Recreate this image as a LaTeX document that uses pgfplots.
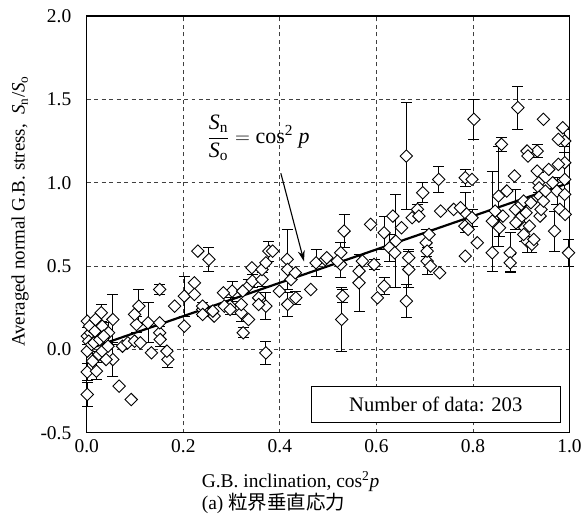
\documentclass[border=0pt]{standalone}
\usepackage{fontspec}
\setmainfont{Liberation Serif}
\newfontfamily\cjk{Noto Sans CJK JP}
\usepackage{pgfplots}
\pgfplotsset{compat=1.18}
\usetikzlibrary{calc,arrows.meta}

\pgfplotstableread{
x y e
0.001 -0.27 0.07
0.001 -0.135 0.05
0.001 0.08 0.05
0.012 -0.07 0.06
0.020 -0.13 0.05
0.021 0.13 0.04
0.030 0.22 0.05
0.008 0.10 0.03
0.045 0.10 0.06
0.054 0.18 0.15
0.054 -0.06 0.10
0.103 0.15 0.05
0.108 0.26 0.10
0.127 0.16 0.12
0.151 0.36 0.03
0.151 0.10 0.04
0.152 0.06 0.04
0.168 -0.06 0.05
0.202 0.32 0.12
0.253 0.54 0.07
0.240 0.24 0.04
0.297 0.26 0.05
0.301 0.35 0.06
0.320 0.22 0.05
0.324 0.10 0.03
0.335 0.38 0.04
0.343 0.41 0.04
0.363 0.42 0.04
0.371 0.26 0.08
0.371 -0.02 0.07
0.377 0.59 0.06
0.415 0.54 0.18
0.416 0.27 0.07
0.433 0.31 0.04
0.475 0.52 0.08
0.526 0.58 0.06
0.526 0.51 0.08
0.533 0.71 0.10
0.530 0.32 0.04
0.528 0.18 0.19
0.564 0.40 0.17
0.595 0.51 0.03
0.616 0.70 0.10
0.616 0.38 0.05
0.627 0.61 0.08
0.640 0.65 0.28
0.662 1.16 0.32
0.667 0.55 0.05
0.667 0.48 0.11
0.662 0.29 0.10
0.685 0.84 0.03
0.696 0.94 0.06
0.703 0.64 0.08
0.705 0.53 0.08
0.729 1.02 0.08
0.784 1.03 0.05
0.784 0.82 0.12
0.798 0.79 0.05
0.802 1.38 0.12
0.840 0.77 0.30
0.853 0.92 0.30
0.855 0.73 0.05
0.859 1.23 0.04
0.877 0.58 0.12
0.877 0.52 0.05
0.888 0.84 0.12
0.893 1.45 0.13
0.898 0.79 0.05
0.907 0.73 0.08
0.912 0.65 0.07
0.922 0.63 0.05
0.933 1.19 0.04
0.936 1.00 0.06
0.969 0.71 0.12
0.974 0.95 0.08
0.990 1.25 0.07
0.990 1.12 0.10
0.990 0.93 0.10
0.998 0.58 0.08
}\errtable

\pgfplotstableread{
x y
0.001 0.17
0.001 -0.01
0.004 0.05
0.006 0.14
0.010 0.03
0.015 0.04
0.017 0.11
0.018 0.18
0.025 -0.03
0.027 0.06
0.032 0.14
0.032 -0.01
0.035 0.08
0.040 -0.06
0.044 0.02
0.067 -0.22
0.074 0.02
0.085 0.04
0.092 -0.30
0.099 0.21
0.099 0.05
0.111 0.04
0.134 -0.02
0.151 0.16
0.166 -0.01
0.182 0.26
0.202 0.14
0.223 0.40
0.223 0.33
0.230 0.59
0.240 0.26
0.240 0.21
0.264 0.20
0.261 0.23
0.283 0.34
0.285 0.26
0.297 0.24
0.320 0.27
0.323 0.35
0.335 0.18
0.342 0.49
0.356 0.31
0.356 0.27
0.363 0.48
0.371 0.52
0.385 0.59
0.399 0.35
0.416 0.48
0.423 0.42
0.432 0.46
0.464 0.36
0.494 0.54
0.497 0.55
0.519 0.53
0.564 0.47
0.571 0.53
0.588 0.75
0.602 0.31
0.634 0.80
0.638 0.58
0.652 0.73
0.674 0.79
0.688 0.80
0.705 0.59
0.709 0.69
0.712 0.50
0.731 0.46
0.733 0.83
0.760 0.84
0.774 0.85
0.783 0.74
0.790 0.72
0.784 0.56
0.798 1.02
0.809 0.64
0.840 0.58
0.846 0.83
0.862 0.80
0.870 0.95
0.886 1.04
0.889 0.76
0.900 0.87
0.905 0.89
0.905 0.69
0.910 0.82
0.912 1.19
0.914 1.16
0.917 0.74
0.920 0.88
0.926 0.66
0.933 1.07
0.937 0.97
0.939 0.92
0.939 0.80
0.941 0.84
0.946 1.38
0.946 0.89
0.950 0.95
0.957 1.08
0.965 1.00
0.977 1.26
0.977 1.11
0.980 0.84
0.986 1.33
0.990 1.02
0.991 0.81
}\plaintable

\begin{document}
\begin{tikzpicture}[font=\fontsize{19.5bp}{22bp}\selectfont]
\begin{axis}[
  scale only axis, width=484bp, height=418bp,
  xmin=0, xmax=1, ymin=-0.5, ymax=2,
  xtick={0,0.2,0.4,0.6,0.8,1}, ytick={-0.5,0,0.5,1,1.5,2},
  /pgf/number format/assume math mode=true,
  /pgf/number format/fixed,
  /pgf/number format/fixed zerofill,
  /pgf/number format/precision=1,
  xticklabel style={yshift=-3bp},
  yticklabel style={xshift=-12bp},
  major tick length=0pt,
  grid=major,
  grid style={black!75, line width=0.8bp, dash pattern=on 4bp off 3.5bp},
  axis line style={line width=1.2bp},
  xlabel={G.B. inclination, cos\textsuperscript{2}\textit{p}\\(a) {\cjk 粒界垂直応力}},
  xlabel style={at={(axis description cs:0.231,-0.083)}, anchor=north west, align=left},
  clip=false,
]
\addplot[only marks, mark=square*, mark size=4.4bp,
  mark options={rotate=45, fill=white, draw=black, line width=0.9bp},
  error bars/.cd, y dir=both, y explicit,
  error bar style={line width=0.9bp, black},
  error mark options={rotate=90, mark size=5.5bp, line width=0.9bp}]
  table[x=x, y=y, y error=e] {\errtable};
\addplot[only marks, mark=square*, mark size=4.4bp,
  mark options={rotate=45, fill=white, draw=black, line width=0.9bp}]
  table[x=x, y=y] {\plaintable};
\addplot[black, line width=2.2bp] coordinates {(0,0) (1,1)};
\node[rotate=90, anchor=center, inner sep=0pt, font=\fontsize{19bp}{22bp}\selectfont] at (axis description cs:-0.138,0.531) {Averaged normal G.B. stress,\ \ \textit{S}\textsubscript{n}/\textit{S}\textsubscript{o}};
\node[font=\fontsize{22bp}{26bp}\selectfont] at (axis cs:0.356,1.27) {$\displaystyle\frac{\mbox{\textit{S}\textsubscript{n}}}{\mbox{\textit{S}\textsubscript{o}}} = \mbox{cos\textsuperscript{2}\ \textit{p}}$};
\draw[-{Stealth[length=11bp,width=7bp]}, line width=1.1bp] (axis cs:0.402,1.057) -- (axis cs:0.450,0.528);
\node[draw, fill=white, line width=0.9bp, minimum width=249bp, minimum height=36bp, inner sep=0pt, font=\fontsize{20.7bp}{24bp}\selectfont] at (axis cs:0.723,-0.329) {Number of data: 203};
\end{axis}
\path ($(current axis.south west)+(-87bp,-89bp)$) rectangle ($(current axis.north east)+(14bp,16bp)$);
\end{tikzpicture}
\end{document}
